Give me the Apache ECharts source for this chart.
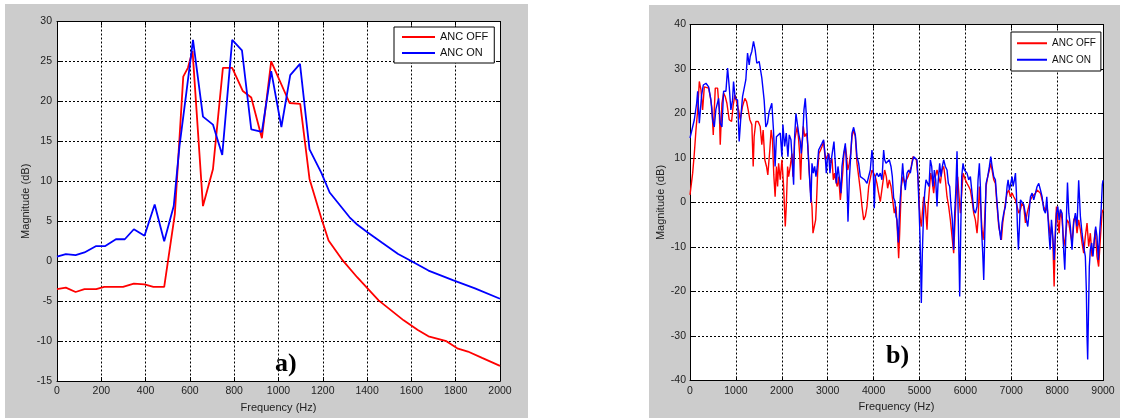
<!DOCTYPE html>
<html><head><meta charset="utf-8">
<script src="https://cdn.jsdelivr.net/npm/echarts@6/dist/echarts.min.js"></script>
<style>
html,body{margin:0;padding:0;background:#fff;width:1125px;height:418px;overflow:hidden;}
.panel{position:absolute;background:#cccccc;}
#chart{position:absolute;left:0;top:0;width:1125px;height:418px;}
</style></head><body>
<div class="panel" style="left:5px;top:4px;width:523px;height:414px"></div>
<div class="panel" style="left:649px;top:5px;width:471px;height:413px"></div>
<div id="chart"></div>
<script>
// ---------- Panel a) ----------
const aFreqOff = [0, 40, 84, 124, 177, 213, 298, 347, 395, 435, 484, 532, 570, 591, 612, 659, 704, 749, 791, 839, 877, 925, 967, 1050, 1098, 1140, 1193, 1226, 1290, 1355, 1452, 1565, 1629, 1677, 1758, 1807, 1855, 1919, 2000];
const aMagOff  = [-3.5, -3.3, -3.85, -3.5, -3.5, -3.2, -3.2, -2.8, -2.9, -3.2, -3.2, 5.9, 23.1, 24.2, 26.3, 6.9, 11.5, 24.2, 24.2, 21.3, 20.5, 15.4, 25.0, 19.8, 19.7, 10.3, 5.4, 2.6, 0.1, -2.0, -4.9, -7.4, -8.6, -9.4, -10.0, -10.9, -11.3, -12.1, -13.1];
const aFreqOn  = [0, 40, 84, 124, 177, 218, 266, 306, 347, 395, 441, 484, 527, 553, 584, 614, 659, 704, 746, 791, 835, 877, 925, 967, 1013, 1053, 1097, 1140, 1193, 1231, 1321, 1355, 1403, 1468, 1540, 1597, 1677, 1790, 1887, 2000];
const aMagOn   = [0.57, 0.9, 0.77, 1.1, 1.9, 1.9, 2.75, 2.75, 4.0, 3.2, 7.1, 2.5, 6.9, 14.4, 21.1, 27.7, 18.1, 17.1, 13.3, 27.7, 26.4, 16.5, 16.2, 23.8, 16.8, 23.3, 24.7, 14.0, 11.1, 8.6, 5.5, 4.6, 3.6, 2.3, 0.9, 0.07, -1.17, -2.4, -3.4, -4.7];

// ---------- Panel b) ----------
const bFreqOn = [0, 20, 94, 145, 167, 203, 254, 290, 348, 406, 456, 493, 529, 565, 623, 659, 696, 732, 783, 819, 855, 891, 927, 949, 985, 1036, 1072, 1109, 1145, 1188, 1217, 1254, 1290, 1312, 1348, 1384, 1420, 1456, 1507, 1565, 1616, 1652, 1688, 1725, 1783, 1819, 1855, 1884,
  1967, 2003, 2025, 2062, 2098, 2134, 2163, 2200, 2236, 2258, 2280, 2309, 2345, 2367, 2403, 2425, 2454, 2483, 2512, 2541, 2570, 2600, 2636, 2658, 2687, 2716, 2745, 2774, 2803, 2839, 2876, 2912, 2948, 2970, 2992, 3021, 3050, 3079, 3108, 3137, 3167, 3188, 3225, 3261, 3290, 3312, 3348, 3385, 3414, 3443, 3472, 3501, 3530, 3566, 3603, 3639, 3676, 3712, 3748, 3806, 3857,
  3929, 3965, 3987, 4016, 4038, 4074, 4111, 4147, 4183, 4220, 4242, 4271, 4307, 4343, 4380, 4409, 4438, 4467, 4489, 4511, 4540, 4569, 4605, 4634, 4656, 4692, 4729, 4765, 4801, 4838, 4874, 4910, 4947, 4969, 4990, 5012, 5027, 5041, 5063, 5085, 5114, 5143, 5179, 5208, 5238, 5267, 5296, 5325, 5354, 5383, 5405, 5441, 5470, 5499, 5528, 5565, 5601, 5630, 5659, 5688, 5717, 5746, 5768, 5790, 5819, 5841, 5863, 5877, 5899, 5921, 5950, 5979,
  6001, 6037, 6074, 6110, 6146, 6183, 6219, 6255, 6277, 6306, 6328, 6350, 6379, 6401, 6423, 6452, 6488, 6524, 6554, 6583, 6619, 6655, 6692, 6721, 6743, 6772, 6801, 6837, 6873, 6910, 6932, 6961, 6997, 7019, 7041, 7070, 7092, 7113, 7135, 7157, 7179, 7201, 7237, 7273, 7310, 7331, 7360, 7382, 7419, 7455, 7491, 7528, 7564, 7600, 7637, 7673, 7709, 7746, 7775, 7804, 7826, 7848, 7877, 7906, 7935, 7964, 7986, 8015, 8044, 8073, 8109, 8146, 8167, 8197, 8226, 8255,
  8289, 8325, 8362, 8398, 8434, 8470, 8507, 8543, 8579, 8615, 8637, 8652, 8666, 8681, 8702, 8724, 8753, 8782, 8811, 8840, 8869, 8898, 8927, 8956, 8985, 9000];
const bMagOn = [14.5, 14.5, 18.6, 22.3, 25, 17.8, 24.2, 26.4, 26.8, 26, 23, 18.6, 17, 21, 23.4, 17.8, 17, 25, 25, 30.2, 26, 20.8, 23, 27.2, 23.4, 23, 13.7, 19.3, 23.8, 24.2, 27.6, 33.6, 30.9, 32.8, 34, 36.2, 34.3, 31.3, 31.7, 28, 23, 17, 17.8, 20.4, 22.3, 16.3, 8.1, 14.8,
  15.6, 10.3, 17.5, 12.6, 15.6, 10.3, 15.2, 14.1, 8.1, 4.0, 14.8, 20, 20, 15.6, 13.7, 11, 14.4, 20.8, 23.4, 18.6, 11.8, 6.6, 0, 8.8, 6.6, 8.1, 5.8, 8.1, 11.8, 12.2, 13.3, 14.1, 10.3, 6.6, 9.6, 11, 6.6, 9.6, 9.6, 13.7, 8.8, 4.3, 8.1, 5.1, 2.1, 8.1, 11, 13.3, 7.3, -4.3, 5.1, 10.3, 15.6, 16.9, 15.2, 10.3, 8.8, 5.8, 5.8, 5.1, 4.3,
  7.3, 11.8, 9.6, -1.3, 5.8, 6.6, 5.8, 6.6, 5.1, 11.8, 9.6, 8.8, 8.8, 9.6, 8.1, 5.8, 1.0, 0.2, -3.1, -3.9, -9.0, -1.0, 4.3, 8.8, 5.8, 2.8, 6.6, 7.3, 6.6, 8.8, 10.3, 10.7, 9.6, 5.1, -0.9, -7.6, -14.8, -22.6, -11.4, -3.9, 2.1, 5.1, 4.3, 3.6, 9.6, 8.1, 3.6, 7.3, 5.1, -0.9, 4.3, 8.8, 5.8, 8.1, 9.6, 8.1, 7.3, 4.3, 3.6, -0.9, -3.9, -10.6, -2.4, 2.1, 11.5, -0.9, -12.9, -21.1, -6.9, 5.8, 8.8, 7.3,
  6.9, 6.6, 5.1, 5.8, 2.1, -1.6, -2.4, -0.9, 5.1, 8.8, 3.6, -5.4, -11.4, -17.4, -7.6, 4.3, 5.8, 8.1, 10.3, 8.1, 5.8, 5.1, -0.1, -3.9, -6.1, -8.4, -4.6, -2.4, -0.9, 3.6, 5.1, 2.8, 2.8, 5.8, 3.6, 5.1, 6.6, 2.1, -5.4, -10.6, -5.4, 0.6, 0.2, -0.5, -0.9, -3.9, -5.4, -3.1, 1.3, 2.1, 0.6, 2.1, 3.6, 4.3, 2.8, 1.3, -1.6, -2.4, 1.3, -3.9, -7.6, -10.6, -3.9, -7.6, -12.9, -6.9, -2.4, -0.9, -3.9, -1.6, -2.4, -11.4, -15.1, -5.4, 4.5, -2.4,
  -5.4, -10.6, -4.6, -2.4, -5.4, 5.0, -3.1, -6.9, -9.9, -12.1, -19.6, -30, -35.3, -26.4, -14.4, -10.6, -9.1, -12.1, -8.4, -5.4, -7.6, -12.9, -6.9, -2.4, 4.0, 5.0];

const bFreqOff = [0, 58, 94, 130, 167, 203, 239, 275, 312, 348, 406, 442, 478, 507, 529, 551, 601, 638, 659, 696, 732, 768, 804, 855, 906, 942, 978, 1014, 1058, 1094, 1145, 1196, 1232, 1268, 1304, 1348, 1377, 1398, 1435, 1485, 1529, 1565, 1594, 1630, 1667, 1696, 1739, 1768, 1797, 1826, 1855, 1884,
  1909, 1931, 1967, 2003, 2040, 2076, 2098, 2127, 2149, 2185, 2221, 2243, 2280, 2309, 2338, 2367, 2389, 2411, 2440, 2469, 2498, 2541, 2570, 2600, 2629, 2658, 2680, 2716, 2738, 2759, 2781, 2810, 2847, 2876, 2912, 2948, 2985, 3021, 3058, 3094, 3123, 3152, 3181, 3210, 3239, 3276, 3297, 3327, 3356, 3385, 3407, 3436, 3472, 3501, 3530, 3566, 3603, 3639, 3676, 3712, 3748, 3785, 3821, 3857, 3894,
  3965, 4002, 4038, 4074, 4111, 4147, 4183, 4220, 4242, 4278, 4307, 4343, 4380, 4416, 4452, 4489, 4518, 4547, 4569, 4605, 4641, 4678, 4714, 4750, 4787, 4823, 4859, 4896, 4932, 4969, 4998, 5020, 5041, 5063, 5092, 5129, 5165, 5187, 5216, 5245, 5274, 5310, 5347, 5383, 5419, 5456, 5492, 5528, 5565, 5601, 5637, 5674, 5710, 5746, 5776, 5805, 5834, 5863, 5892, 5921, 5950, 5979,
  6001, 6037, 6074, 6110, 6146, 6183, 6219, 6255, 6277, 6306, 6335, 6364, 6386, 6415, 6452, 6488, 6524, 6554, 6583, 6619, 6655, 6692, 6728, 6757, 6786, 6815, 6844, 6873, 6910, 6946, 6983, 7019, 7055, 7092, 7128, 7164, 7201, 7237, 7273, 7310, 7346, 7382, 7419, 7455, 7491, 7528, 7564, 7600, 7637, 7673, 7709, 7746, 7782, 7818, 7848, 7877, 7906, 7935, 7964, 7986, 8015, 8044, 8073, 8109, 8146, 8182, 8219, 8255,
  8289, 8325, 8362, 8398, 8434, 8470, 8507, 8543, 8579, 8615, 8652, 8688, 8724, 8760, 8797, 8833, 8869, 8905, 8941, 8978, 9000];
const bMagOff = [1.7, 6.6, 11, 16.3, 20.8, 27.2, 25.3, 20.8, 26, 26.4, 25.7, 23.8, 21.2, 15.2, 20.8, 25.7, 25.7, 20.8, 13, 22.3, 24.6, 23.8, 22.3, 18.6, 18.2, 21.9, 24.2, 22.7, 20.8, 18.6, 21.6, 23.4, 22.7, 20.8, 18.6, 17.5, 8.1, 14.8, 18.2, 18.2, 17.1, 13, 16.3, 9.6, 8.1, 6.2, 11.8, 16.3, 14.1, 6.2, 1.3, 8.1,
  3.6, 8.8, 5.1, 9.6, 3.6, -5.4, -0.9, 8.1, 5.8, 8.1, 11, 5.8, 14.1, 15.6, 17.1, 14.1, 11, 5.1, 13.3, 17.1, 14.8, 15.6, 12.6, 6.6, 2.1, -0.9, -6.9, -6.9, -3.9, 0.6, 6.6, 11, 11.8, 12.6, 13.7, 9.6, 10.3, 11, 8.8, 9.9, 5.1, 6.6, 4.7, 3.6, 5.8, 0.6, 2.8, 6.6, 11, 12.6, 11, 7.3, 8.8, 11, 14.8, 16.3, 14.8, 8.8, 5.8, 2.8, -0.9, -3.9, -3.1, -0.9, 3.6,
  7.3, 6.6, 5.8, 4.3, 2.1, 0.2, 0.6, 5.8, 7.3, 5.8, 3.2, 5.1, 3.6, 0.6, -2.4, -0.9, -6.1, -12.5, -6.9, 3.6, 5.8, 4.3, 5.1, 5.8, 6.9, 8.1, 10.3, 10.7, 9.6, 5.8, -0.9, -3.9, -5.4, -2.4, 1.3, -0.9, -6.1, -0.9, 2.8, 6.6, 5.1, 2.1, 5.8, 7.3, 5.8, 4.3, 7.3, 8.1, 5.1, 1.3, -0.9, -3.9, -7.6, -11.4, -3.9, 2.8, 5.8, 1.3, -2.4, 2.1, 6.6, 6.6,
  5.1, 4.3, 3.6, 2.8, 0.6, -2.4, -3.9, -6.9, -3.9, 3.6, -0.9, -6.1, -8.4, -5.4, 3.6, 5.8, 7.3, 8.8, 7.3, 5.1, 4.3, -0.9, -5.4, -6.9, -8.4, -4.6, -2.4, -0.1, 2.1, 2.8, 1.3, 2.1, 1.3, 0.6, -0.9, -2.4, -1.6, -0.1, -0.9, -4.6, -2.4, -0.9, 0.6, 1.3, 1.3, 2.1, 2.8, 3.2, 2.1, 0.6, -0.9, -2.0, -0.9, -4.6, -7.6, -5.4, -8.4, -18.9, -5.4, -0.9, -3.9, -6.9, -1.6, -3.9, -9.9, -7.6, -3.9, -4.6,
  -6.9, -9.1, -3.9, -3.1, -6.9, -3.9, -6.1, -9.1, -11.4, -7.6, -4.6, -9.9, -6.9, -12.1, -9.9, -6.1, -12.1, -14.4, -8.4, -2.4, -1.6];

const seriesNames = ['ANC OFF', 'ANC ON'];
const xTitle = 'Frequency (Hz)';
const yTitle = 'Magnitude (dB)';

const FONT = 'Arial, "Liberation Sans", Helvetica, sans-serif';
function pairs(f, v) { return f.map((x, i) => [x, v[i]]); }
const plain = (v) => String(v);
const gridLine = { show: true, lineStyle: { color: '#000', type: [2, 2], width: 1 } };
const blackLine = { show: true, onZero: false, lineStyle: { color: '#000', width: 1 } };
const tick = { show: true, inside: true, length: 4, lineStyle: { color: '#000' } };

function mainX(g, max, itv, gap) {
  return { gridIndex: g, type: 'value', min: 0, max: max, interval: itv, position: 'bottom',
    axisLine: blackLine, axisTick: tick, splitLine: gridLine,
    axisLabel: { color: '#222', fontSize: 10.5, fontFamily: FONT, margin: 5, formatter: plain },
    name: xTitle, nameLocation: 'middle', nameGap: gap,
    nameTextStyle: { color: '#222', fontSize: 11, fontFamily: FONT } };
}
function sideX(g, max, itv) {
  return { gridIndex: g, type: 'value', min: 0, max: max, interval: itv, position: 'top',
    axisLine: blackLine, axisTick: tick, splitLine: { show: false }, axisLabel: { show: false } };
}
function mainY(g, min, max, itv, gap, margin) {
  return { gridIndex: g, type: 'value', min: min, max: max, interval: itv, position: 'left',
    axisLine: blackLine, axisTick: tick, splitLine: gridLine,
    axisLabel: { color: '#222', fontSize: 10.5, fontFamily: FONT, margin: margin, formatter: plain },
    name: yTitle, nameLocation: 'middle', nameGap: gap,
    nameTextStyle: { color: '#222', fontSize: 11, fontFamily: FONT } };
}
function sideY(g, min, max, itv) {
  return { gridIndex: g, type: 'value', min: min, max: max, interval: itv, position: 'right',
    axisLine: blackLine, axisTick: tick, splitLine: { show: false }, axisLabel: { show: false } };
}
function line(name, xi, data, color, w, z) {
  return { type: 'line', name: name, xAxisIndex: xi, yAxisIndex: xi, data: data,
    showSymbol: false, symbol: 'none', lineStyle: { color: color, width: w }, itemStyle: { color: color },
    z: z, animation: false };
}

const chart = echarts.init(document.getElementById('chart'), null, { renderer: 'canvas' });
chart.setOption({
  backgroundColor: 'transparent',
  animation: false,
  grid: [
    { left: 57, top: 21.5, width: 443, height: 362, show: true, backgroundColor: '#fff', borderWidth: 0 },
    { left: 690, top: 24.5, width: 413, height: 356, show: true, backgroundColor: '#fff', borderWidth: 0 }
  ],
  xAxis: [ mainX(0, 2000, 200, 20), sideX(0, 2000, 200), mainX(1, 9000, 1000, 21), sideX(1, 9000, 1000) ],
  yAxis: [ mainY(0, -15, 30, 5, 26, 5), sideY(0, -15, 30, 5), mainY(1, -40, 40, 10, 22, 4), sideY(1, -40, 40, 10) ],
  legend: [
    { left: 394, top: 27, orient: 'vertical', data: seriesNames, icon: 'rect', itemWidth: 33, itemHeight: 2,
      itemGap: 4, padding: [4, 6, 4, 8], borderColor: '#000', borderWidth: 1, backgroundColor: '#fff',
      selectedMode: false, textStyle: { fontSize: 11, color: '#111', fontFamily: FONT, lineHeight: 12 } },
    { left: 1011, top: 32, orient: 'vertical', data: seriesNames, icon: 'rect', itemWidth: 30, itemHeight: 2,
      itemGap: 4, padding: [5, 5, 5, 6], borderColor: '#000', borderWidth: 1, backgroundColor: '#fff',
      selectedMode: false, textStyle: { fontSize: 10, color: '#111', fontFamily: FONT, lineHeight: 12.5 } }
  ],
  graphic: [
    { type: 'text', x: 275, y: 364, z: 100, style: { text: 'a)', align: 'left', verticalAlign: 'middle',
      font: 'bold 26px "Liberation Serif", "Times New Roman", serif', fill: '#000' } },
    { type: 'text', x: 886, y: 356.5, z: 100, style: { text: 'b)', align: 'left', verticalAlign: 'middle',
      font: 'bold 26px "Liberation Serif", "Times New Roman", serif', fill: '#000' } }
  ],
  series: [
    line(seriesNames[0], 0, pairs(aFreqOff, aMagOff), '#ff0000', 1.8, 2),
    line(seriesNames[1], 0, pairs(aFreqOn, aMagOn), '#0000ff', 1.8, 3),
    line(seriesNames[0], 2, pairs(bFreqOff, bMagOff), '#ff0000', 1.4, 2),
    line(seriesNames[1], 2, pairs(bFreqOn, bMagOn), '#0000ff', 1.4, 3)
  ]
});
</script></body></html>
